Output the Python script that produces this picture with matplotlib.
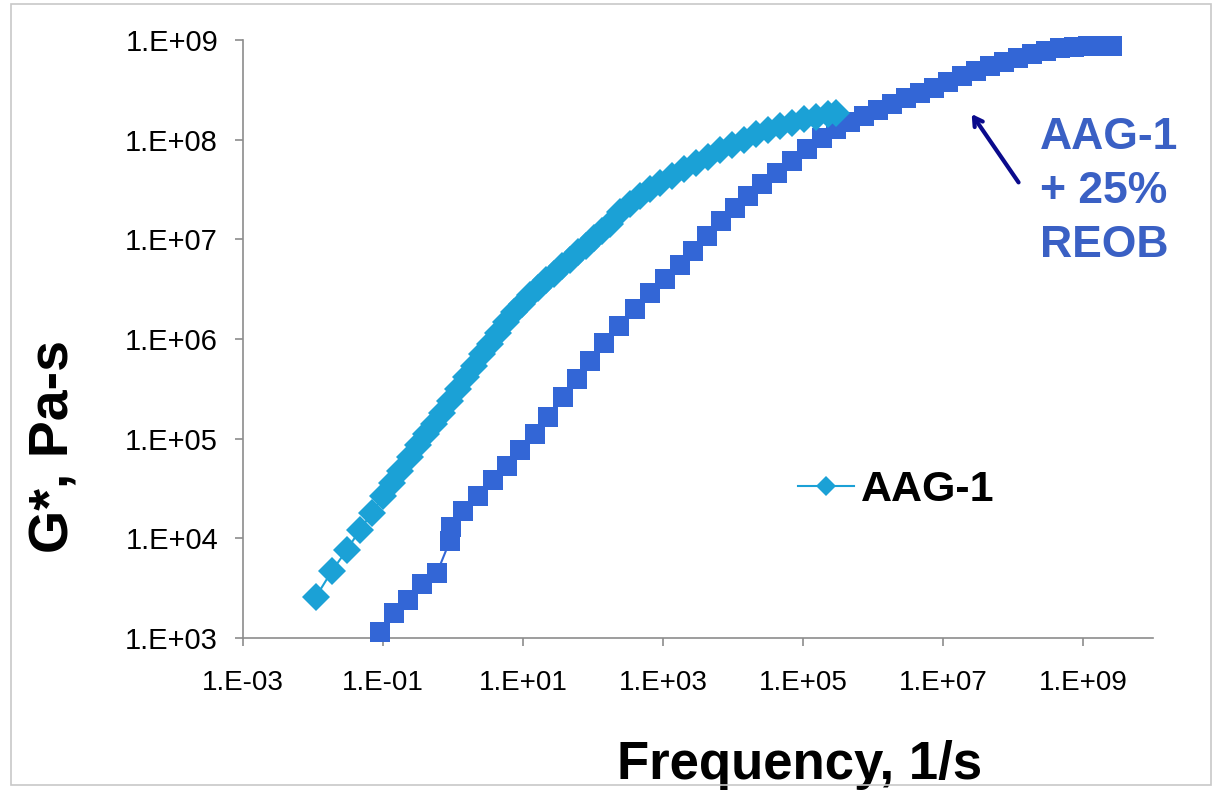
import matplotlib
matplotlib.use("Agg")
import matplotlib.pyplot as plt
from matplotlib.patches import Rectangle
from matplotlib.ticker import FixedLocator, FixedFormatter, NullLocator

plt.rcParams.update({"font.family": ["Liberation Sans", "DejaVu Sans"]})

# AAG-1 (diamonds)
freq_aag = [0.0110, 0.0187, 0.0306, 0.0469, 0.0697, 0.100, 0.135, 0.175, 0.243, 0.316,
            0.411, 0.535, 0.697, 0.906, 1.18, 1.53, 2.00, 2.60, 3.38, 4.39,
            5.71, 7.44, 9.68, 12.6, 16.4, 21.3, 27.7, 36.1, 46.9, 61.1,
            79.4, 103, 134, 175, 243, 338, 469, 652, 906, 1345,
            1995, 2960, 4390, 6520, 9680, 1.44e4, 2.13e4, 3.16e4, 4.69e4, 6.97e4,
            1.03e5, 1.53e5, 2.28e5, 2.96e5]
g_aag = [2590, 4730, 7690, 1.22e4, 1.81e4, 2.63e4, 3.56e4, 4.70e4, 6.50e4, 8.59e4,
         1.11e5, 1.40e5, 1.80e5, 2.38e5, 3.14e5, 4.15e5, 5.36e5, 7.08e5, 8.93e5, 1.15e6,
         1.49e6, 1.87e6, 2.26e6, 2.78e6, 3.27e6, 3.94e6, 4.53e6, 5.45e6, 6.27e6, 7.54e6,
         8.66e6, 1.02e7, 1.20e7, 1.41e7, 1.86e7, 2.24e7, 2.70e7, 3.18e7, 3.65e7, 4.29e7,
         5.05e7, 5.80e7, 6.67e7, 7.84e7, 8.81e7, 9.89e7, 1.14e8, 1.26e8, 1.36e8, 1.48e8,
         1.60e8, 1.70e8, 1.80e8, 1.84e8]

# AAG-1 + 25% REOB (squares)
freq_reob = [0.0906, 0.144, 0.228, 0.361, 0.590, 0.906, 0.935, 1.39, 2.28, 3.73,
             5.91, 9.06, 14.8, 22.8, 37.3, 59.1, 90.6, 144, 235, 398,
             652, 1070, 1750, 2680, 4250, 6740, 1.07e4, 1.64e4, 2.59e4, 4.25e4,
             6.97e4, 1.14e5, 1.87e5, 2.96e5, 4.69e5, 7.44e5, 1.18e6, 1.87e6, 2.96e6, 4.69e6,
             7.44e6, 1.18e7, 1.87e7, 2.96e7, 4.69e7, 7.43e7, 1.18e8, 1.87e8, 2.96e8, 4.69e8,
             7.43e8, 1.18e9, 1.75e9, 2.59e9]
g_reob = [1150, 1790, 2410, 3500, 4510, 9480, 1.31e4, 1.90e4, 2.63e4, 3.81e4,
          5.27e4, 7.64e4, 1.11e5, 1.64e5, 2.61e5, 3.96e5, 6.01e5, 9.14e5, 1.36e6, 2.01e6,
          2.91e6, 4.03e6, 5.57e6, 7.71e6, 1.07e7, 1.51e7, 2.04e7, 2.70e7, 3.56e7, 4.60e7,
          6.07e7, 8.02e7, 1.04e8, 1.28e8, 1.50e8, 1.73e8, 1.98e8, 2.28e8, 2.62e8, 2.94e8,
          3.30e8, 3.79e8, 4.36e8, 4.90e8, 5.50e8, 6.03e8, 6.62e8, 7.26e8, 7.78e8, 8.24e8,
          8.54e8, 8.70e8, 8.75e8, 8.75e8]

xticks = [1e-3, 1e-1, 1e1, 1e3, 1e5, 1e7, 1e9]
xticklabels = ["1.E-03", "1.E-01", "1.E+01", "1.E+03", "1.E+05", "1.E+07", "1.E+09"]
yticks = [1e3, 1e4, 1e5, 1e6, 1e7, 1e8, 1e9]
yticklabels = ["1.E+03", "1.E+04", "1.E+05", "1.E+06", "1.E+07", "1.E+08", "1.E+09"]

CYAN, BLUE, NAVY, TXT = "#1BA1D6", "#3366D6", "#0A0A8C", "#3A60C4"

fig = plt.figure(figsize=(12.17, 7.96), dpi=100)
fig.patches.append(Rectangle((0.009, 0.014), 0.986, 0.981, transform=fig.transFigure,
                             fill=False, ec="#C8C8C8", lw=1.2))
ax = fig.add_axes([0.1997, 0.1985, 0.7477, 0.7513])

ax.plot(freq_reob, g_reob, "-s", color=BLUE, ms=14.5, mew=0, lw=1.5, clip_on=False, zorder=3)
ax.plot(freq_aag, g_aag, "-D", color=CYAN, ms=14, mew=0, lw=1.5, clip_on=False, zorder=4,
        label="AAG-1")

ax.set_xscale("log"); ax.set_yscale("log")
ax.set_xlim(1e-3, 1e10); ax.set_ylim(1e3, 1e9)
ax.xaxis.set_major_locator(FixedLocator(xticks)); ax.xaxis.set_major_formatter(FixedFormatter(xticklabels))
ax.yaxis.set_major_locator(FixedLocator(yticks)); ax.yaxis.set_major_formatter(FixedFormatter(yticklabels))
ax.xaxis.set_minor_locator(NullLocator()); ax.yaxis.set_minor_locator(NullLocator())
for s in ("top", "right"): ax.spines[s].set_visible(False)
for s in ("left", "bottom"): ax.spines[s].set_color("#8C8C8C"); ax.spines[s].set_linewidth(1.2)
ax.tick_params(axis="both", direction="out", length=6, width=1.2, color="#8C8C8C")
ax.tick_params(axis="x", labelsize=20, pad=17)
ax.tick_params(axis="y", labelsize=21, pad=12)

ax.set_xlabel("Frequency, 1/s", fontsize=38, fontweight="bold", va="center")
ax.xaxis.set_label_coords(0.612, -0.212)
ax.set_ylabel("G*, Pa-s", fontsize=40, fontweight="bold", va="center")
ax.yaxis.set_label_coords(-0.207, 0.32)

ax.legend(loc="center left", bbox_to_anchor=(0.61, 0.247), frameon=False,
          prop={"weight": "bold", "size": 31}, handlelength=1.3, handletextpad=0.15,
          borderpad=0, borderaxespad=0, markerscale=0.7)

ax.annotate("", xy=(0.799, 0.880), xytext=(0.854, 0.758), xycoords="axes fraction",
            arrowprops=dict(arrowstyle="->,head_length=0.6,head_width=0.35", color=NAVY, lw=3))
ax.text(0.876, 0.872, "AAG-1\n+ 25%\nREOB", transform=ax.transAxes, ha="left", va="top",
        fontsize=32, fontweight="bold", color=TXT, linespacing=1.42)

fig.savefig("out.png", dpi=100)
